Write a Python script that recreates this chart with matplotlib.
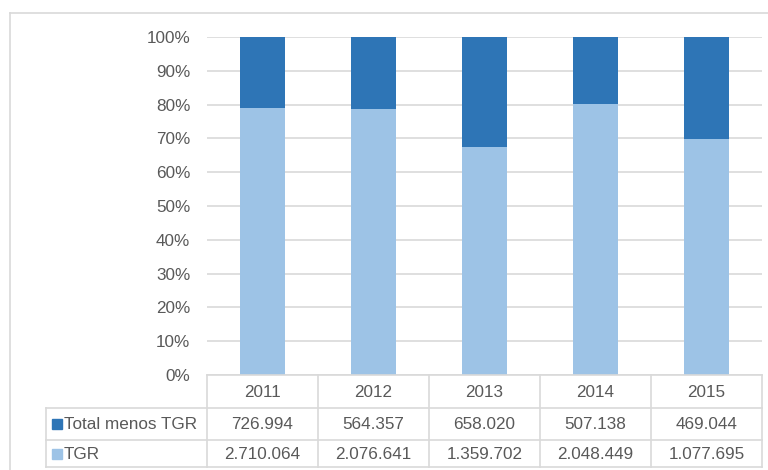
import matplotlib
matplotlib.use("Agg")
import matplotlib.pyplot as plt
from matplotlib.lines import Line2D
from matplotlib.patches import Rectangle
import numpy as np

years = ["2011", "2012", "2013", "2014", "2015"]
total_menos_tgr = [726994, 564357, 658020, 507138, 469044]
tgr = [2710064, 2076641, 1359702, 2048449, 1077695]
series_names = ["Total menos TGR", "TGR"]
dark = "#2E75B6"
light = "#9DC3E6"
grid_col = "#D9D9D9"
text_col = "#595959"


def fmt(v):
    return f"{v:,}".replace(",", ".")


plt.rcParams["font.family"] = ["Liberation Sans", "DejaVu Sans"]

W, H = 768, 470
fig = plt.figure(figsize=(W / 100, H / 100), dpi=100)


def fx(px):
    return px / W


def fy(py):
    return 1 - py / H


# chart border
fig.add_artist(Line2D([fx(10), fx(768)], [fy(13), fy(13)], color=grid_col, lw=1.2))
fig.add_artist(Line2D([fx(10), fx(10)], [fy(13), fy(470)], color=grid_col, lw=1.2))

# bars
ax = fig.add_axes([fx(207), fy(375), fx(762) - fx(207), fy(37) - fy(375)])
tot = np.array(total_menos_tgr) + np.array(tgr)
share_tgr = np.array(tgr) / tot
share_rest = np.array(total_menos_tgr) / tot
x = np.arange(len(years))
ax.bar(x, share_tgr, width=0.41, color=light, zorder=3)
ax.bar(x, share_rest, width=0.41, bottom=share_tgr, color=dark, zorder=3)
ax.set_xlim(-0.5, len(years) - 0.5)
ax.set_ylim(0, 1)
ticks = np.arange(0, 1.01, 0.1)
ax.set_yticks(ticks)
ax.set_yticklabels([f"{int(round(t * 100))}%" for t in ticks])
ax.yaxis.grid(True, color=grid_col, lw=1.2, zorder=0)
ax.tick_params(axis="y", length=0, pad=12, labelsize=12.3, labelcolor=text_col)
ax.set_xticks([])
for s in ax.spines.values():
    s.set_visible(False)
ax.patch.set_alpha(0)

# data table
unit = 111.0
left_units = 161 / unit
tab = fig.add_axes([fx(46), fy(467), fx(762) - fx(46), fy(375) - fy(467)])
tab.set_xlim(-0.5 - left_units, len(years) - 0.5)
tab.set_ylim(467, 375)
tab.axis("off")
rows = [375, 408, 440, 467]
lw = 1.2
tab.plot([-0.5, len(years) - 0.5], [rows[0], rows[0]], color=grid_col, lw=lw, clip_on=False)
for r in rows[1:]:
    tab.plot([-0.5 - left_units, len(years) - 0.5], [r, r], color=grid_col, lw=lw, clip_on=False)
tab.plot([-0.5 - left_units] * 2, [rows[1], rows[3]], color=grid_col, lw=lw, clip_on=False)
for i in range(len(years) + 1):
    tab.plot([i - 0.5] * 2, [rows[0], rows[3]], color=grid_col, lw=lw, clip_on=False)

fs = 12.3
for i, yr in enumerate(years):
    tab.text(i, (rows[0] + rows[1]) / 2 + 1, yr, ha="center", va="center", fontsize=fs, color=text_col)
    tab.text(i, (rows[1] + rows[2]) / 2 + 1, fmt(total_menos_tgr[i]), ha="center", va="center",
             fontsize=fs, color=text_col)
    tab.text(i, (rows[2] + rows[3]) / 2 + 1, fmt(tgr[i]), ha="center", va="center",
             fontsize=fs, color=text_col)

for k, (name, col) in enumerate(zip(series_names, [dark, light])):
    yc = (rows[k + 1] + rows[k + 2]) / 2
    tab.add_patch(Rectangle((-0.5 - left_units + 6 / unit, yc - 4.5), 10 / unit, 10,
                            color=col, clip_on=False))
    tab.text(-0.5 - left_units + 18 / unit, yc + 1, name, ha="left", va="center",
             fontsize=fs, color=text_col)

fig.savefig("out.png", dpi=100)
